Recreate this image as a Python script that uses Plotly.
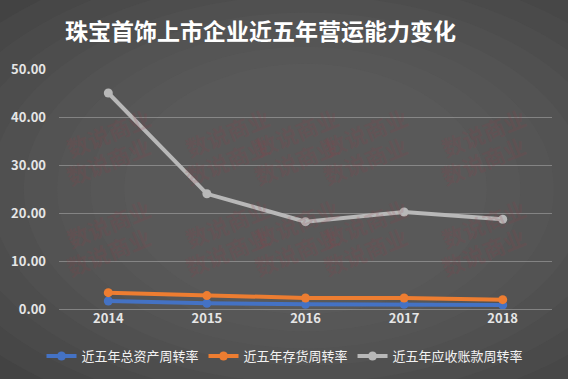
import plotly.graph_objects as go

years = ["2014", "2015", "2016", "2017", "2018"]
total_asset_turnover = [1.67, 1.2, 0.97, 1.0, 0.83]
inventory_turnover = [3.4, 2.8, 2.3, 2.3, 1.95]
receivable_turnover = [45.0, 24.0, 18.2, 20.2, 18.7]
series_names = ["近五年总资产周转率", "近五年存货周转率", "近五年应收账款周转率"]
colors = ["#4472c4", "#ed7d31", "#b8b8b8"]
title_text = "珠宝首饰上市企业近五年营运能力变化"
y_ticks = [0, 10, 20, 30, 40, 50]

FONT = "Noto Sans CJK SC"
fig = go.Figure()
for name, vals, c in zip(series_names, [total_asset_turnover, inventory_turnover, receivable_turnover], colors):
    fig.add_trace(go.Scatter(
        x=years, y=vals, name=name, mode="lines+markers",
        line=dict(color=c, width=4),
        marker=dict(color=c, size=9),
        hoverinfo="skip",
    ))

# radial-like background gradient
shapes = []
steps = 14
for i in range(steps):
    f = i / steps
    shapes.append(dict(
        type="circle", xref="paper", yref="paper", layer="below",
        x0=-0.75 + f * 0.95, x1=1.75 - f * 0.95,
        y0=-0.95 + f * 1.0, y1=1.95 - f * 1.0,
        fillcolor="rgba(120,120,120,0.085)", line=dict(width=0),
    ))

annotations = [dict(
    text=title_text, xref="paper", yref="paper", x=(260 - 59) / 493, y=(309 - 30) / 240,
    xanchor="center", yanchor="middle", showarrow=False,
    font=dict(family=FONT, size=23, color="white", weight="bold"),
)]
# faint watermark
for ry in [0.88, 0.62, 0.36, 0.1]:
    for rx in [0.0, 0.24, 0.48, 0.72, 0.96]:
        annotations.append(dict(
            text="数说商业", xref="paper", yref="paper", x=rx, y=ry,
            showarrow=False, textangle=-22,
            font=dict(family=FONT, size=22, color="rgba(150,60,70,0.18)", weight="bold"),
        ))

fig.update_layout(
    width=568, height=379,
    margin=dict(l=59, r=16, t=69, b=70, autoexpand=False),
    paper_bgcolor="#242424",
    plot_bgcolor="rgba(0,0,0,0)",
    shapes=shapes,
    annotations=annotations,
    showlegend=True,
    legend=dict(
        orientation="h", x=(285 - 59) / 493, xanchor="center",
        y=(309 - 356) / 240, yanchor="middle",
        font=dict(family=FONT, size=13, color="#f2f2f2"),
        bgcolor="rgba(0,0,0,0)", itemwidth=30, tracegroupgap=0,
    ),
    xaxis=dict(
        type="category", range=[-0.5, 4.5], showgrid=False, zeroline=False, showline=False,
        tickfont=dict(family=FONT, size=13, color="#e6e6e6", weight="bold"),
        ticks="", ticklen=0,
    ),
    yaxis=dict(
        range=[0, 50], tickvals=y_ticks, tickformat=".2f",
        showgrid=True, gridcolor="rgba(190,190,190,0.45)", gridwidth=1,
        zeroline=True, zerolinecolor="rgba(190,190,190,0.45)", zerolinewidth=1,
        showline=False, ticks="", ticklabelstandoff=12,
        tickfont=dict(family=FONT, size=13, color="#e6e6e6", weight="bold"),
    ),
)

fig.write_html("out.html")
